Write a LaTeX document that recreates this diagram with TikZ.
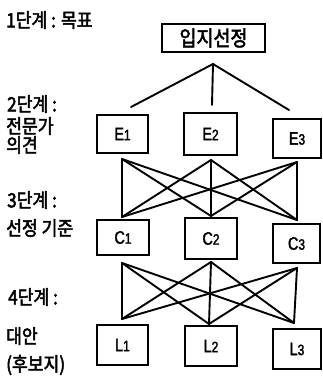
\documentclass[tikz,border=0pt]{standalone}
\usepackage{fontspec}
\newfontfamily\kr[FakeStretch=0.88,FakeBold=2.5]{Noto Sans CJK KR}
\newfontfamily\lat[FakeStretch=0.8,FakeBold=2]{Liberation Sans}
\newcommand{\dg}[1]{{\fontsize{15}{16}\selectfont #1}}
\begin{document}
\begin{tikzpicture}[x=1pt,y=-1pt,
  box/.style={draw,line width=1.2pt,inner sep=0pt},
  link/.style={line width=1.9pt,line cap=round},
  lbl/.style={anchor=west,inner sep=0pt,font=\kr\fontsize{19.5}{20}\selectfont},
  bl/.style={font=\lat\fontsize{18}{18}\selectfont}]
\useasboundingbox (0,0) rectangle (323,388);
% boxes
\node[box,minimum width=103pt,minimum height=28pt,font=\kr\fontsize{21}{21}\selectfont] (top) at (213.5,38) {입지선정};
\node[box,minimum width=51pt,minimum height=38pt,bl] (E1) at (122.5,134) {E\dg{1}};
\node[box,minimum width=53pt,minimum height=42pt,bl] (E2) at (210.5,134) {E\dg{2}};
\node[box,minimum width=48pt,minimum height=39pt,bl] (E3) at (297,138.5) {E\dg{3}};
\node[box,minimum width=52pt,minimum height=35pt,bl] (C1) at (123,237.5) {C\dg{1}};
\node[box,minimum width=52pt,minimum height=41pt,bl] (C2) at (211,238.5) {C\dg{2}};
\node[box,minimum width=47pt,minimum height=39pt,bl] (C3) at (296.5,243.5) {C\dg{3}};
\node[box,minimum width=51pt,minimum height=40pt,bl] (L1) at (122.5,345) {L\dg{1}};
\node[box,minimum width=52pt,minimum height=40pt,bl] (L2) at (211,346) {L\dg{2}};
\node[box,minimum width=48pt,minimum height=40pt,bl] (L3) at (297,349) {L\dg{3}};
% level 1 to 2
\coordinate (apex) at (213,64);
\coordinate (a1) at (131,107);
\coordinate (a2) at (212,105);
\coordinate (a3) at (289,110);
\draw[link] (a1) -- (apex) -- (a3);
\draw[link] (apex) -- (a2);
% level 2 to 3
\coordinate (t1) at (122,159);
\coordinate (t2) at (211,160);
\coordinate (t3) at (297,162);
\coordinate (b1) at (122,217);
\coordinate (b2) at (211,216);
\coordinate (b3) at (297,220);
\foreach \i in {1,2,3}{\foreach \j in {1,2,3}{\draw[link] (t\i) -- (b\j);}}
% level 3 to 4
\coordinate (u1) at (122,263);
\coordinate (u2) at (211,262);
\coordinate (u3) at (297,268);
\coordinate (v1) at (122,319);
\coordinate (v2) at (209,324);
\coordinate (v3) at (294,323);
\foreach \i in {1,2,3}{\foreach \j in {1,2,3}{\draw[link] (u\i) -- (v\j);}}
% labels
\node[lbl] (s1) at (6,20) {1단계 : 목표};
\node[lbl] (s2a) at (7,104) {2단계 :};
\node[lbl] (s2b) at (6,126) {전문가};
\node[lbl] (s2c) at (6,145) {의견};
\node[lbl] (s3a) at (7,200) {3단계 :};
\node[lbl] (s3b) at (6,228) {선정 기준};
\node[lbl] (s4a) at (8,297) {4단계 :};
\node[lbl] (s4b) at (6,336) {대안};
\node[lbl] (s4c) at (6,365) {(후보지)};
\end{tikzpicture}
\end{document}
